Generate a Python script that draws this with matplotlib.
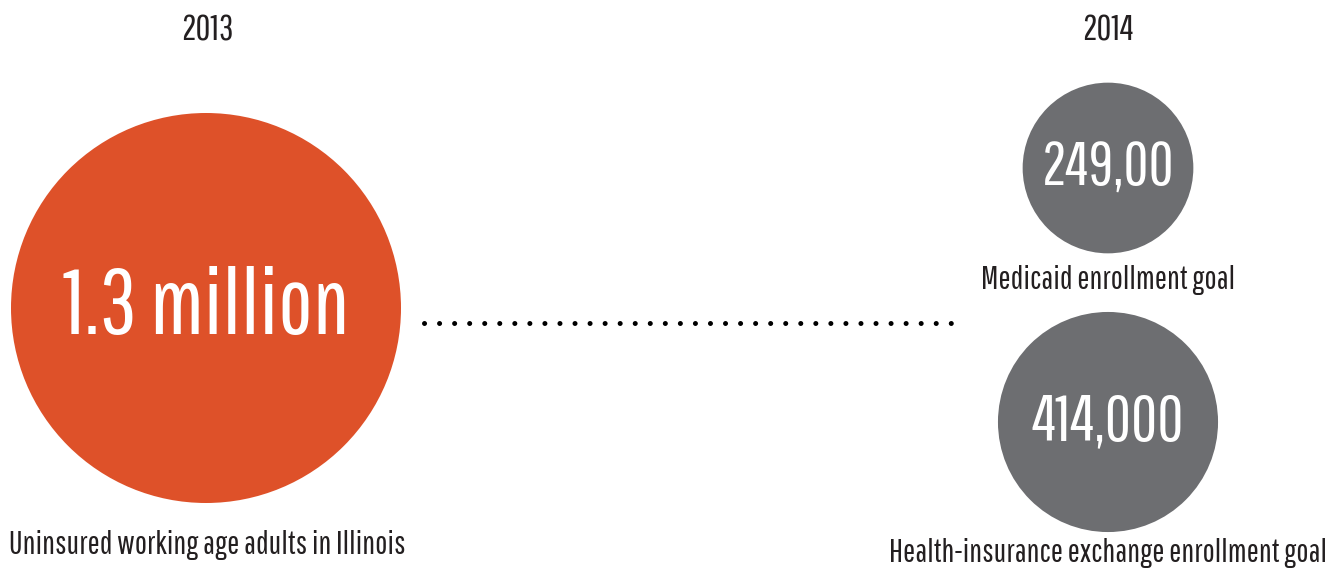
import numpy as np
import matplotlib
matplotlib.use("Agg")
import matplotlib.pyplot as plt
from matplotlib.patches import Circle

plt.rcParams['font.family'] = ['Pathway Gothic One', 'Roboto Condensed',
                               'Oswald', 'DejaVu Sans']

# enrollment figures, circle area proportional to the value
years = ['2013', '2014']
values = [1300000, 249000, 414000]
value_labels = ['1.3 million', '249,00', '414,000']
captions = ['Uninsured working age adults in Illinois',
            'Medicaid enrollment goal',
            'Health-insurance exchange enrollment goal']

orange = '#de5129'
grey = '#6d6e71'
ink = '#231f20'

fig = plt.figure(figsize=(13.36, 5.71), dpi=100)
ax = fig.add_axes([0, 0, 1, 1])
ax.set_xlim(0, 1336)
ax.set_ylim(571, 0)
ax.set_aspect('equal')
ax.axis('off')

# layout: circle centres in pixels, radius scale for the biggest value
centres = [(206, 308), (1108, 168), (1108, 422)]
r_max = 195
fills = [orange, grey, grey]
num_size = [66, 44, 46]
cap_pos = [(207, 545), (1108, 280), (1108, 553)]

for v, (cx, cy), c, txt, fs in zip(values, centres, fills, value_labels, num_size):
    r = r_max * np.sqrt(v / max(values))
    ax.add_patch(Circle((cx, cy), r, color=c, lw=0))
    ax.text(cx, cy, txt, color='white', fontsize=fs,
            ha='center', va='center')

for cap, (x, y) in zip(captions, cap_pos):
    ax.text(x, y, cap, color=ink, fontsize=23.3, ha='center', va='center')

for yr, x in zip(years, [207, 1108]):
    ax.text(x, 30, yr, color=ink, fontsize=26, ha='center', va='center')

# dotted connector between the two years
ax.plot([424, 953], [323, 323], color='black', lw=3.6,
        linestyle=(0, (0.01, 3)), dash_capstyle='round')

fig.savefig('out.png', dpi=100)
